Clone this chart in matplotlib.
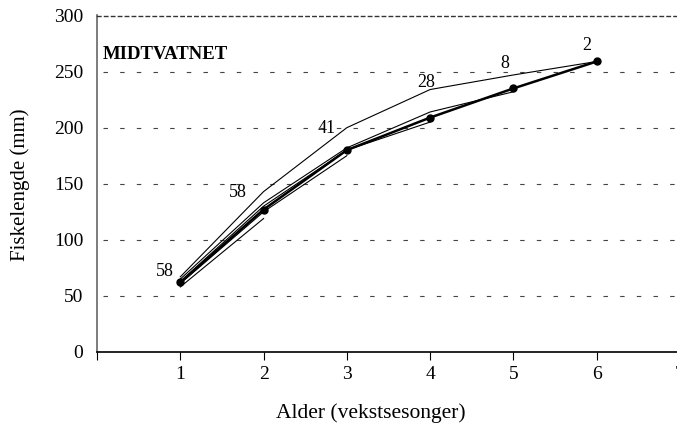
import numpy as np
import matplotlib
matplotlib.use('Agg')
import matplotlib.pyplot as plt

plt.rcParams['font.family'] = ['Liberation Serif', 'DejaVu Serif']

# Alder (vekstsesonger) og gjennomsnittlig tilbakeberegnet lengde
ages = [1, 2, 3, 4, 5, 6]
mean_length = [62, 127, 180, 209, 235, 259]
n_fish = [58, 58, 41, 28, 8, 2]

# Tilbakeberegnet lengde for hver aldersgruppe (alder ved fangst 2-6)
group_age2 = [58, 119]
group_age3 = [61, 125, 175]
group_age4 = [63, 130, 180, 205]
group_age5 = [65, 133, 182, 214, 232]
group_age6 = [67, 143, 200, 234, 247, 259]
groups = [group_age2, group_age3, group_age4, group_age5, group_age6]

yticks = [0, 50, 100, 150, 200, 250, 300]
xticks = [0, 1, 2, 3, 4, 5, 6, 7]

fig = plt.figure(figsize=(6.77, 4.25), dpi=100)
ax = fig.add_axes([97/677, 1 - 352/425, 583/677, (352 - 15.5)/425])

for g in groups:
    ax.plot(ages[:len(g)], g, color='black', lw=0.8, zorder=2)

ax.plot(ages, mean_length, color='black', lw=1.8, marker='o', ms=5, zorder=3)

# antall fisk ved hver alder
offsets = [(-15, 11), (-26, 17), (-20, 22), (-4, 35), (-9, 25), (-10, 16)]
for a, m, n, off in zip(ages, mean_length, n_fish, offsets):
    ax.annotate(str(n), (a, m), xytext=(off[0]*0.72, off[1]*0.72),
                textcoords='offset points', ha='center', va='center', fontsize=13)

ax.set_xlim(0, 7)
ax.set_ylim(0, 300)
ax.set_yticks(yticks)
ax.set_xticks(xticks)
ax.set_xticklabels([''] + [str(x) for x in xticks[1:]])
ax.tick_params(axis='y', length=0, pad=10, labelsize=14)
ax.tick_params(axis='x', direction='out', length=6, width=0.8, pad=4, labelsize=14)

for y in yticks[1:-1]:
    ax.axhline(y, color='#444444', lw=0.8, ls=(0, (4, 11)), xmin=0.01, zorder=1)

ax.spines['right'].set_visible(False)
ax.spines['top'].set_linestyle((0, (2.5, 2.5)))
ax.spines['top'].set_color('#333333')
ax.spines['top'].set_linewidth(1.0)
ax.spines['left'].set_color('#666666')
ax.spines['left'].set_linewidth(1.2)
ax.spines['bottom'].set_linewidth(1.2)

ax.text(0.01, 0.885, 'MIDTVATNET', transform=ax.transAxes, fontsize=13.5,
        fontweight='bold', ha='left', va='center')

fig.text(371/677, 1 - 413/425, 'Alder (vekstsesonger)', ha='center', va='center', fontsize=15.5)
fig.text(20/677, 1 - 185/425, 'Fiskelengde (mm)', ha='center', va='center',
         rotation=90, fontsize=15)

fig.savefig('out.png', dpi=100)
